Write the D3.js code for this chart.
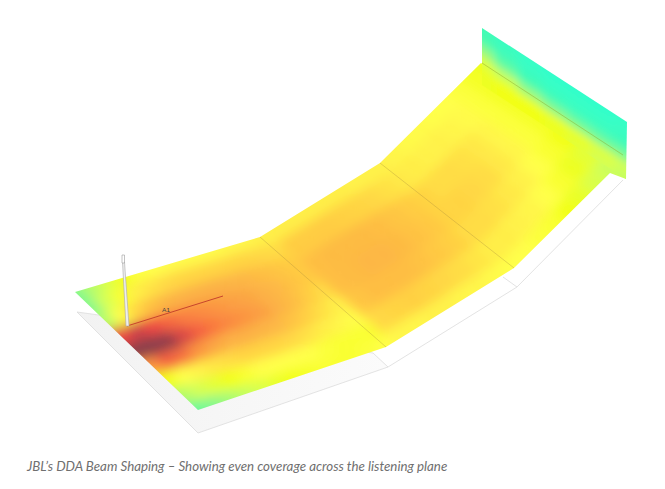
<!DOCTYPE html>
<html><head><meta charset="utf-8">
<script src="https://cdn.jsdelivr.net/npm/d3@7/dist/d3.min.js"></script>
<style>html,body{margin:0;padding:0;background:#fff}svg{display:block}</style>
</head><body><svg id="c" width="665" height="489"></svg>
<script>
// Level readings per section; rows run back edge to front edge, columns along the room.
const frontPlane = [
 [2.0,2.6,3.1,3.6,3.9,4.0,4.1,4.1,4.1,4.1,4.2,4.2,4.3],
 [2.0,3.0,3.8,4.4,4.7,4.9,5.0,5.0,5.0,5.0,5.0,4.9,4.8],
 [2.6,4.0,5.0,5.6,5.9,6.0,6.0,6.0,5.9,5.8,5.6,5.4,5.2],
 [8.0,8.6,8.0,7.4,6.9,6.7,6.5,6.3,6.2,6.0,5.8,5.5,5.2],
 [10,10,9.8,8.4,7.5,7.0,6.7,6.5,6.3,6.0,5.7,5.2,4.8],
 [6.5,7.5,7.2,6.5,6.2,6.0,6.0,5.9,5.8,5.5,5.1,4.7,4.3],
 [3.6,4.0,4.3,4.6,4.8,5.0,5.0,5.0,4.9,4.7,4.4,4.2,4.0],
 [2.6,3.0,3.3,3.6,3.8,4.0,4.0,4.0,4.0,3.9,3.8,3.8,3.8],
 [1.6,2.0,2.4,2.8,3.1,3.4,3.6,3.7,3.8,3.8,3.8,3.9,4.0]
];
const middlePlane = [
 [4.4,4.4,4.4,4.4,4.4,4.4,4.3,4.3,4.3],
 [5.1,5.2,5.2,5.2,5.1,5.0,4.9,4.7,4.5],
 [5.4,5.6,5.7,5.7,5.7,5.6,5.4,5.2,5.0],
 [5.4,5.6,5.7,5.8,5.8,5.7,5.5,5.3,5.0],
 [5.2,5.4,5.6,5.6,5.6,5.5,5.3,5.1,4.8],
 [4.7,4.9,5.0,5.1,5.0,4.9,4.8,4.6,4.4],
 [4.1,4.2,4.2,4.3,4.3,4.2,4.2,4.1,4.0]
];
const rearPlane = [
 [4.3,4.2,4.1,4.1,4.0,4.0,3.9,3.7,3.5],
 [4.5,4.4,4.3,4.3,4.2,4.1,3.9,3.7,3.5],
 [4.9,4.8,4.8,4.7,4.5,4.2,3.9,3.7,3.5],
 [5.0,5.0,4.9,4.8,4.5,4.2,3.9,3.7,3.5],
 [4.9,4.8,4.7,4.5,4.3,4.0,3.8,3.6,3.3],
 [4.5,4.4,4.3,4.2,4.0,3.8,3.5,3.3,3.0],
 [4.0,4.0,3.9,3.8,3.6,3.4,3.1,2.9,2.8]
];
const wallPlane = [
 [0.8,0.5,0.3,0.2,0.2,0.2,0.3],
 [1.0,0.7,0.4,0.3,0.3,0.3,0.4],
 [2.2,1.4,0.9,0.7,0.6,0.6,0.7],
 [3.2,2.8,2.3,2.0,1.8,1.7,1.8],
 [3.5,3.6,3.6,3.5,3.4,3.2,3.0],
 [3.5,3.6,3.6,3.5,3.3,3.0,2.8]
];
const levelStops = [0,1,2,3,3.6,4,4.6,5.2,6,7,8,9,10];
const levelColors = ["#2effd0","#45fbb0","#85f88c","#d4ff55","#f2ff18","#ffff4a","#ffe545","#ffcc42","#fcb044","#f9783e","#ee4a42","#b83e48","#8a3c4a"];
const arrayLabel = "A1";
const caption = "JBL\u2019s DDA Beam Shaping \u2013 Showing even coverage across the listening plane";

const svg = d3.select("#c");
const color = d3.scaleLinear().domain(levelStops).range(levelColors).interpolate(d3.interpolateRgb);
const line = d3.line();
const defs = svg.append("defs");
const poly = pts => line(pts) + "Z";

// Perspective corners: back-near, back-far, front-far, front-near
const P = {
  front:  [[75,292],[260,237],[386,347],[198,410]],
  middle: [[260,237],[380,163],[514,268],[386,347]],
  rear:   [[380,163],[481,63],[624,156],[514,268]],
  wall:   [[482,28],[627,122],[626,179],[482,85]]
};
const outline = [[75,292],[260,237],[380,163],[481,63],[623,155],[626,179],[610,173],[514,268],[386,347],[198,410]];
const wallOutline = P.wall;

function bilinear(c,u,v){
  const top=[c[0][0]+(c[1][0]-c[0][0])*u, c[0][1]+(c[1][1]-c[0][1])*u];
  const bot=[c[3][0]+(c[2][0]-c[3][0])*u, c[3][1]+(c[2][1]-c[3][1])*u];
  return [top[0]+(bot[0]-top[0])*v, top[1]+(bot[1]-top[1])*v];
}

defs.append("filter").attr("id","blurF").attr("x","-10%").attr("y","-10%").attr("width","120%").attr("height","120%")
  .append("feGaussianBlur").attr("stdDeviation",6);
defs.append("filter").attr("id","blurW").attr("x","-10%").attr("y","-10%").attr("width","120%").attr("height","120%")
  .append("feGaussianBlur").attr("stdDeviation",4);
defs.append("clipPath").attr("id","clipFloor").append("path").attr("d",poly(outline));
defs.append("clipPath").attr("id","clipWall").append("path").attr("d",poly(wallOutline));
const g = defs.append("linearGradient").attr("id","slab").attr("x1",0).attr("x2",1).attr("y1",0).attr("y2",0);
g.append("stop").attr("offset",0).attr("stop-color","#f2f2f2");
g.append("stop").attr("offset",1).attr("stop-color","#fbfbfb");

// Base slabs under the measured plane
const edge = "#dcdcdc";
svg.append("path").attr("d",poly([[77,312],[198,433],[388,367],[373,353]])).attr("fill","url(#slab)").attr("stroke",edge).attr("stroke-width",0.8);
svg.append("path").attr("d",line([[388,367],[517,287],[623,180]])).attr("fill","none").attr("stroke",edge).attr("stroke-width",0.8);
svg.append("path").attr("d",line([[503,277],[517,287]])).attr("fill","none").attr("stroke",edge).attr("stroke-width",0.8);

function drawPlane(parent, values, corners, extendStart, extendEnd){
  const rows=values.length, cols=values[0].length;
  const us=d3.scaleLinear().domain([0,cols-1]).range([0,1]);
  const vs=d3.scaleLinear().domain([0,rows-1]).range([0,1]);
  const cells=[];
  values.forEach((row,r)=>row.forEach((val,c)=>cells.push({r,c,val})));
  parent.selectAll(null).data(cells).join("path")
    .attr("d",d=>{
      let u0=us(d.c-.5),u1=us(d.c+.52),v0=vs(d.r-.5),v1=vs(d.r+.52);
      if(d.c===0&&extendStart)u0-=0.25;
      if(d.c===cols-1&&extendEnd)u1+=0.25;
      if(d.r===0)v0-=0.25;
      if(d.r===rows-1)v1+=0.25;
      return poly([bilinear(corners,u0,v0),bilinear(corners,u1,v0),bilinear(corners,u1,v1),bilinear(corners,u0,v1)]);
    })
    .attr("fill",d=>color(d.val));
}

// Floor heat map
const floorG = svg.append("g").attr("clip-path","url(#clipFloor)").append("g").attr("filter","url(#blurF)");
drawPlane(floorG, rearPlane, P.rear, false, true);
drawPlane(floorG, middlePlane, P.middle, false, false);
drawPlane(floorG, frontPlane, P.front, true, false);

// End wall
const wallG = svg.append("g").attr("clip-path","url(#clipWall)").append("g").attr("filter","url(#blurW)");
drawPlane(wallG, wallPlane, P.wall, true, true);

// Section seams
const seam="rgba(165,135,60,0.4)";
[[P.front[1],P.front[2]],[P.middle[1],P.middle[2]]].forEach(s=>
  svg.append("path").attr("d",line(s)).attr("stroke",seam).attr("stroke-width",0.8).attr("fill","none"));
svg.append("path").attr("d",line([[482,63],[623,155]])).attr("stroke","rgba(140,165,40,0.55)").attr("stroke-width",0.8).attr("fill","none");

// Loudspeaker array line and pole
svg.append("path").attr("d",line([[127,326],[223,296]])).attr("stroke","#c8452c").attr("stroke-width",1).attr("fill","none");
svg.append("text").attr("x",166).attr("y",312).attr("text-anchor","middle").attr("font-family","Lato, sans-serif").attr("font-size",6.5).attr("fill","#444").text(arrayLabel);
svg.append("path").attr("d",poly([[122.5,262],[124.5,262],[129,326],[126,326]])).attr("fill","#eeeeee").attr("stroke","#a9a9a9").attr("stroke-width",0.6);
svg.append("path").attr("d",poly([[122,255],[124.5,255],[124.5,263],[122,263]])).attr("fill","#fff").attr("stroke","#9a9a9a").attr("stroke-width",0.6);

// Caption
svg.append("text").attr("x",27).attr("y",471).attr("font-family","Lato, sans-serif").attr("font-style","italic").attr("font-size",13.3).attr("fill","#6f6f6f").text(caption);
</script></body></html>
